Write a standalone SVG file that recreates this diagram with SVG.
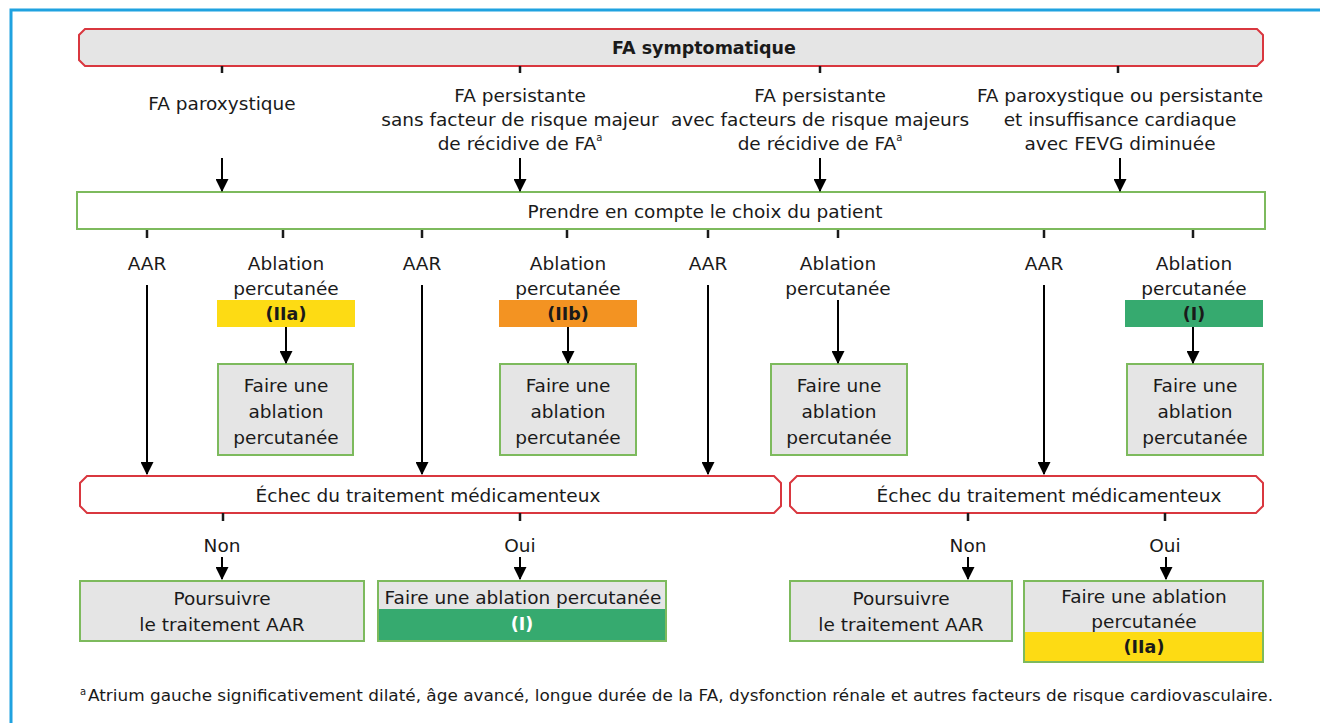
<svg xmlns="http://www.w3.org/2000/svg" width="1320" height="723" viewBox="0 0 1320 723">
  <style>
    text { font-family: "DejaVu Sans", "Liberation Sans", sans-serif; font-size: 18.5px; fill: #1a1a1a; text-anchor: middle; dominant-baseline: central; }
    .b { font-weight: bold; font-size: 17.5px; }
    .w { fill: #ffffff; }
    .red { fill: #e5e5e5; stroke: #d9373f; stroke-width: 2; }
    .redw { fill: #ffffff; stroke: #d9373f; stroke-width: 2; }
    .grn { fill: #e5e5e5; stroke: #7dba5d; stroke-width: 2; }
    .grnw { fill: #ffffff; stroke: #7dba5d; stroke-width: 2; }
    .tick { stroke: #1a1a1a; stroke-width: 2.5; }
    .arr { stroke: #000; stroke-width: 2; fill: none; marker-end: url(#ah); }
    .sup { font-size: 10px; }
    .foot { font-size: 15.5px; text-anchor: start; }
  </style>
  <defs>
    <marker id="ah" markerWidth="13" markerHeight="13" viewBox="0 0 12 12" refX="11" refY="6" orient="auto" markerUnits="userSpaceOnUse">
      <path d="M0,0 L12,6 L0,12 Z" fill="#000"/>
    </marker>
  </defs>

  <!-- frame -->
  <path d="M11,723 V10 H1320" fill="none" stroke="#1fa2e0" stroke-width="3"/>

  <!-- header -->
  <g id="n-symptomatique">
    <polygon class="red" points="85,29 1257,29 1263,35 1263,60 1257,66 85,66 79,60 79,35"/>
    <text x="704" y="48" class="b">FA symptomatique</text>
  </g>

  <g id="n-paroxystique">
    <text x="222" y="103">FA paroxystique</text>
  </g>
  <g id="n-persistante-sans">
    <text x="520" y="95">FA persistante</text>
    <text x="520" y="119">sans facteur de risque majeur</text>
    <text x="520" y="143">de récidive de FA<tspan class="sup" dy="-6">a</tspan></text>
  </g>
  <g id="n-persistante-avec">
    <text x="820" y="95">FA persistante</text>
    <text x="820" y="119">avec facteurs de risque majeurs</text>
    <text x="820" y="143">de récidive de FA<tspan class="sup" dy="-6">a</tspan></text>
  </g>
  <g id="n-insuffisance">
    <text x="1120" y="95">FA paroxystique ou persistante</text>
    <text x="1120" y="119">et insuffisance cardiaque</text>
    <text x="1120" y="143">avec FEVG diminuée</text>
  </g>

  <g id="n-choix">
    <rect class="grnw" x="77" y="192" width="1188" height="37"/>
    <text x="705" y="211">Prendre en compte le choix du patient</text>
  </g>

  <!-- options -->
  <g id="n-aar-1"><text x="147" y="263">AAR</text></g>
  <g id="n-aar-2"><text x="422" y="263">AAR</text></g>
  <g id="n-aar-3"><text x="708" y="263">AAR</text></g>
  <g id="n-aar-4"><text x="1044" y="263">AAR</text></g>

  <g id="n-abl-1">
    <text x="286" y="263">Ablation</text>
    <text x="286" y="288">percutanée</text>
    <rect x="217" y="300" width="138" height="27" fill="#fddb14"/>
    <text x="286" y="314" class="b">(IIa)</text>
  </g>
  <g id="n-abl-2">
    <text x="568" y="263">Ablation</text>
    <text x="568" y="288">percutanée</text>
    <rect x="499" y="300" width="138" height="27" fill="#f39322"/>
    <text x="568" y="314" class="b">(IIb)</text>
  </g>
  <g id="n-abl-3">
    <text x="838" y="263">Ablation</text>
    <text x="838" y="288">percutanée</text>
  </g>
  <g id="n-abl-4">
    <text x="1194" y="263">Ablation</text>
    <text x="1194" y="288">percutanée</text>
    <rect x="1125" y="300" width="138" height="27" fill="#36aa6f"/>
    <text x="1194" y="314" class="b">(I)</text>
  </g>

  <g id="n-faire-1">
    <rect class="grn" x="218" y="364" width="135" height="91"/>
    <text x="286" y="385">Faire une</text>
    <text x="286" y="411">ablation</text>
    <text x="286" y="437">percutanée</text>
  </g>
  <g id="n-faire-2">
    <rect class="grn" x="500" y="364" width="136" height="91"/>
    <text x="568" y="385">Faire une</text>
    <text x="568" y="411">ablation</text>
    <text x="568" y="437">percutanée</text>
  </g>
  <g id="n-faire-3">
    <rect class="grn" x="771" y="364" width="136" height="91"/>
    <text x="839" y="385">Faire une</text>
    <text x="839" y="411">ablation</text>
    <text x="839" y="437">percutanée</text>
  </g>
  <g id="n-faire-4">
    <rect class="grn" x="1127" y="364" width="136" height="91"/>
    <text x="1195" y="385">Faire une</text>
    <text x="1195" y="411">ablation</text>
    <text x="1195" y="437">percutanée</text>
  </g>

  <!-- failure of drug therapy -->
  <g id="n-echec-1">
    <polygon class="redw" points="87,476 774,476 781,483 781,506 774,513 87,513 80,506 80,483"/>
    <text x="428" y="495">Échec du traitement médicamenteux</text>
  </g>
  <g id="n-echec-2">
    <polygon class="redw" points="797,476 1256,476 1263,483 1263,506 1256,513 797,513 790,506 790,483"/>
    <text x="1049" y="495">Échec du traitement médicamenteux</text>
  </g>

  <g id="n-non-1"><text x="222" y="545">Non</text></g>
  <g id="n-oui-1"><text x="520" y="545">Oui</text></g>
  <g id="n-non-2"><text x="968" y="545">Non</text></g>
  <g id="n-oui-2"><text x="1165" y="545">Oui</text></g>

  <g id="n-poursuivre-1">
    <rect class="grn" x="80" y="581" width="284" height="60"/>
    <text x="222" y="598">Poursuivre</text>
    <text x="222" y="624">le traitement AAR</text>
  </g>
  <g id="n-ablation-i">
    <rect class="grn" x="378" y="581" width="288" height="60"/>
    <rect x="379" y="609" width="286" height="31" fill="#36aa6f"/>
    <text x="523" y="597">Faire une ablation percutanée</text>
    <text x="522" y="624" class="b w">(I)</text>
  </g>
  <g id="n-poursuivre-2">
    <rect class="grn" x="790" y="581" width="222" height="60"/>
    <text x="901" y="598">Poursuivre</text>
    <text x="901" y="624">le traitement AAR</text>
  </g>
  <g id="n-ablation-iia">
    <rect class="grn" x="1024" y="581" width="239" height="81"/>
    <rect x="1025" y="632" width="237" height="29" fill="#fddb14"/>
    <text x="1144" y="596">Faire une ablation</text>
    <text x="1144" y="621">percutanée</text>
    <text x="1144" y="647" class="b">(IIa)</text>
  </g>

  <!-- connectors -->
  <g id="connectors">
    <line class="tick" x1="222" y1="66" x2="222" y2="73"/>
    <line class="tick" x1="520" y1="66" x2="520" y2="73"/>
    <line class="tick" x1="820" y1="66" x2="820" y2="73"/>
    <line class="tick" x1="1118" y1="66" x2="1118" y2="73"/>

    <line class="arr" x1="222" y1="158" x2="222" y2="191"/>
    <line class="arr" x1="520" y1="158" x2="520" y2="191"/>
    <line class="arr" x1="820" y1="158" x2="820" y2="191"/>
    <line class="arr" x1="1120" y1="158" x2="1120" y2="191"/>

    <line class="tick" x1="147" y1="230" x2="147" y2="238"/>
    <line class="tick" x1="283" y1="230" x2="283" y2="238"/>
    <line class="tick" x1="422" y1="230" x2="422" y2="238"/>
    <line class="tick" x1="567" y1="230" x2="567" y2="238"/>
    <line class="tick" x1="708" y1="230" x2="708" y2="238"/>
    <line class="tick" x1="838" y1="230" x2="838" y2="238"/>
    <line class="tick" x1="1044" y1="230" x2="1044" y2="238"/>
    <line class="tick" x1="1193" y1="230" x2="1193" y2="238"/>

    <line class="arr" x1="147" y1="285" x2="147" y2="474"/>
    <line class="arr" x1="422" y1="285" x2="422" y2="474"/>
    <line class="arr" x1="708" y1="285" x2="708" y2="474"/>
    <line class="arr" x1="1044" y1="285" x2="1044" y2="474"/>

    <line class="arr" x1="286" y1="327" x2="286" y2="363"/>
    <line class="arr" x1="568" y1="327" x2="568" y2="363"/>
    <line class="arr" x1="838" y1="300" x2="838" y2="363"/>
    <line class="arr" x1="1193" y1="327" x2="1193" y2="363"/>

    <line class="tick" x1="223" y1="513" x2="223" y2="521"/>
    <line class="tick" x1="520" y1="513" x2="520" y2="521"/>
    <line class="tick" x1="968" y1="513" x2="968" y2="521"/>
    <line class="tick" x1="1165" y1="513" x2="1165" y2="521"/>

    <line class="arr" x1="222" y1="557" x2="222" y2="579"/>
    <line class="arr" x1="520" y1="557" x2="520" y2="579"/>
    <line class="arr" x1="968" y1="557" x2="968" y2="579"/>
    <line class="arr" x1="1166" y1="557" x2="1166" y2="579"/>
  </g>

  <!-- footnote -->
  <g id="n-footnote">
    <text x="80" y="691" class="sup" style="text-anchor:start">a</text>
    <text x="88" y="696" class="foot" textLength="1185" lengthAdjust="spacingAndGlyphs">Atrium gauche significativement dilaté, âge avancé, longue durée de la FA, dysfonction rénale et autres facteurs de risque cardiovasculaire.</text>
  </g>
</svg>
